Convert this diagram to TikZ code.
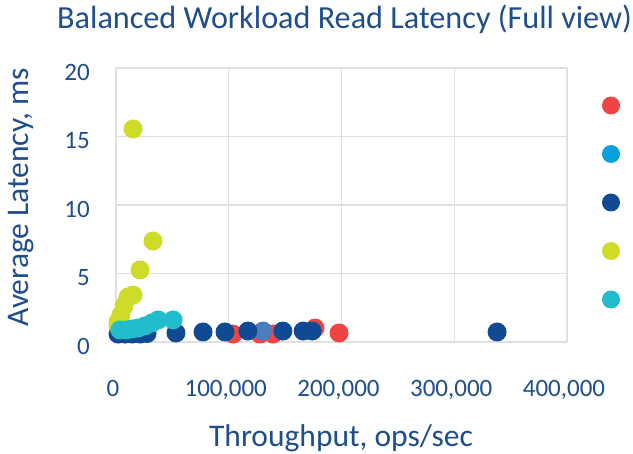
\documentclass[tikz,border=0pt]{standalone}
\usepackage{fontspec}
\setmainfont{Carlito}
\usetikzlibrary{positioning}

\definecolor{chartblue}{RGB}{31,78,140}
\definecolor{gridgray}{RGB}{224,224,224}
\definecolor{seriesred}{RGB}{239,68,68}
\definecolor{serieslight}{RGB}{10,160,220}
\definecolor{seriesdark}{RGB}{16,74,146}
\definecolor{serieslime}{RGB}{206,219,40}
\definecolor{seriescyan}{RGB}{34,188,205}
\definecolor{seriesmid}{RGB}{78,125,190}

\begin{document}
\begin{tikzpicture}[x=1pt, y=-1pt,
  gridline/.style={draw=gridgray, line width=1.3pt},
  ticklabel/.style={text=chartblue, inner sep=0pt, font=\fontsize{25}{28}\selectfont},
  axtitle/.style={text=chartblue, inner sep=0pt, font=\fontsize{31.5}{34}\selectfont}]
\useasboundingbox (0,0) rectangle (633,454);

% title and axis titles
\node[axtitle, anchor=base west, font=\fontsize{32.2}{34}\selectfont] (title) at (57,29) {Balanced Workload Read Latency (Full view)};
\node[axtitle, anchor=base] (xtitle) at (341,447) {Throughput, ops/sec};
\node[axtitle, anchor=base, rotate=90] (ytitle) at (28,197.5) {Average Latency, ms};

% plot area: x in thousands of ops/sec, y in ms
\begin{scope}[shift={(116,342)}, x=1.1275pt, y=13.7pt]
  \foreach \v in {0,5,...,20} {
    \draw[gridline] (0,\v) -- (400,\v);
    \node[ticklabel, anchor=east, xshift=-26pt, yshift=-4.5pt] (ytick\v) at (0,\v) {\v};
  }
  \foreach \k/\txt in {0/0, 100/{100,000}, 200/{200,000}, 300/{300,000}, 400/{400,000}} {
    \draw[gridline] (\k,0) -- (\k,20);
    \node[ticklabel, anchor=north, xshift=-3pt, yshift=-38pt] (xtick\k) at (\k,0) {\txt};
  }

  % series, back to front
  \foreach \x/\y in {103.8/0.58, 127.7/0.58, 139.2/0.58, 176.5/1.02, 197.8/0.66}
    \fill[seriesred] (\x,\y) circle (9.5pt);
  \foreach \x/\y in {2.5/0.85, 6/0.88}
    \fill[serieslight] (\x,\y) circle (9.5pt);
  \fill[seriesmid] (130.4,0.80) circle (9.5pt);
  \foreach \x/\y in {1.8/0.58, 8/0.58, 14.2/0.58, 21.3/0.58, 27.5/0.62, 53.2/0.66,
                     77.2/0.73, 96.7/0.73, 117/0.8, 148/0.8, 166/0.8, 174/0.8, 338/0.73}
    \fill[seriesdark] (\x,\y) circle (9.5pt);
  \foreach \x/\y in {15.1/15.55, 32.8/7.37, 21.3/5.26, 15.1/3.43, 10.6/3.28, 7.1/2.63,
                     4.4/1.97, 1.8/1.46, 1.8/1.17}
    \fill[serieslime] (\x,\y) circle (9.5pt);
  \foreach \x/\y in {3.5/0.88, 8.9/0.88, 14.2/0.95, 19.5/1.02, 25.7/1.17, 31.9/1.39,
                     37.3/1.61, 50.6/1.61}
    \fill[seriescyan] (\x,\y) circle (9.5pt);
\end{scope}

% legend markers
\foreach \c [count=\i] in {seriesred, serieslight, seriesdark, serieslime, seriescyan}
  \fill[\c] (611,{57+48.5*\i}) circle (9pt);
\end{tikzpicture}
\end{document}
